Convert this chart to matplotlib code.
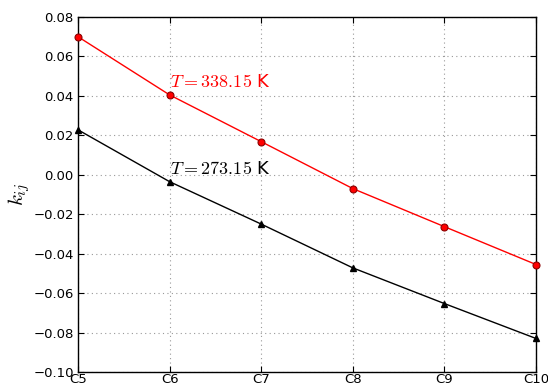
import matplotlib
matplotlib.use("Agg")
import matplotlib.pyplot as plt

plt.rcParams['mathtext.fontset'] = 'cm'
plt.rcParams['font.family'] = 'DejaVu Sans'

categories = ["C5", "C6", "C7", "C8", "C9", "C10"]
k_338 = [0.0700, 0.0405, 0.0168, -0.0070, -0.0263, -0.0455]
k_273 = [0.0228, -0.0035, -0.0250, -0.0472, -0.0653, -0.0830]
y_ticks = [-0.10, -0.08, -0.06, -0.04, -0.02, 0.00, 0.02, 0.04, 0.06, 0.08]

fig = plt.figure(figsize=(5.48, 3.85), dpi=100, facecolor='white')
ax = fig.add_axes([78/548, 13/385, 458/548, 355/385])

x = list(range(len(categories)))
ax.plot(x, k_338, color='red', lw=1.0, marker='o', ms=5,
        mfc='red', mec='#8b0000', mew=0.8, clip_on=False, zorder=3)
ax.plot(x, k_273, color='black', lw=1.0, marker='^', ms=5,
        mfc='black', mec='black', clip_on=False, zorder=3)

ax.text(1.0, 0.0445, r"$T = 338.15$ K", color='red', fontsize=13)
ax.text(1.0, 0.0005, r"$T = 273.15$ K", color='black', fontsize=13)

ax.set_xlim(0, 5)
ax.set_ylim(-0.10, 0.08)
ax.set_xticks(x)
ax.set_xticklabels(categories)
ax.set_yticks(y_ticks)
ax.set_yticklabels([f"{v:.2f}".replace("-", "\u2212") for v in y_ticks])
ax.tick_params(direction='in', length=4, width=0.8, top=True, right=True,
               labelsize=9.5, pad=3)
ax.tick_params(axis='x', pad=1)
ax.grid(True, color='#999999', linestyle=(0, (1, 3)), linewidth=0.8)
for s in ax.spines.values():
    s.set_linewidth(1.0)
ax.set_ylabel(r"$k_{ij}$", fontsize=15, labelpad=1)

fig.savefig("out.png", dpi=100, facecolor='white')
